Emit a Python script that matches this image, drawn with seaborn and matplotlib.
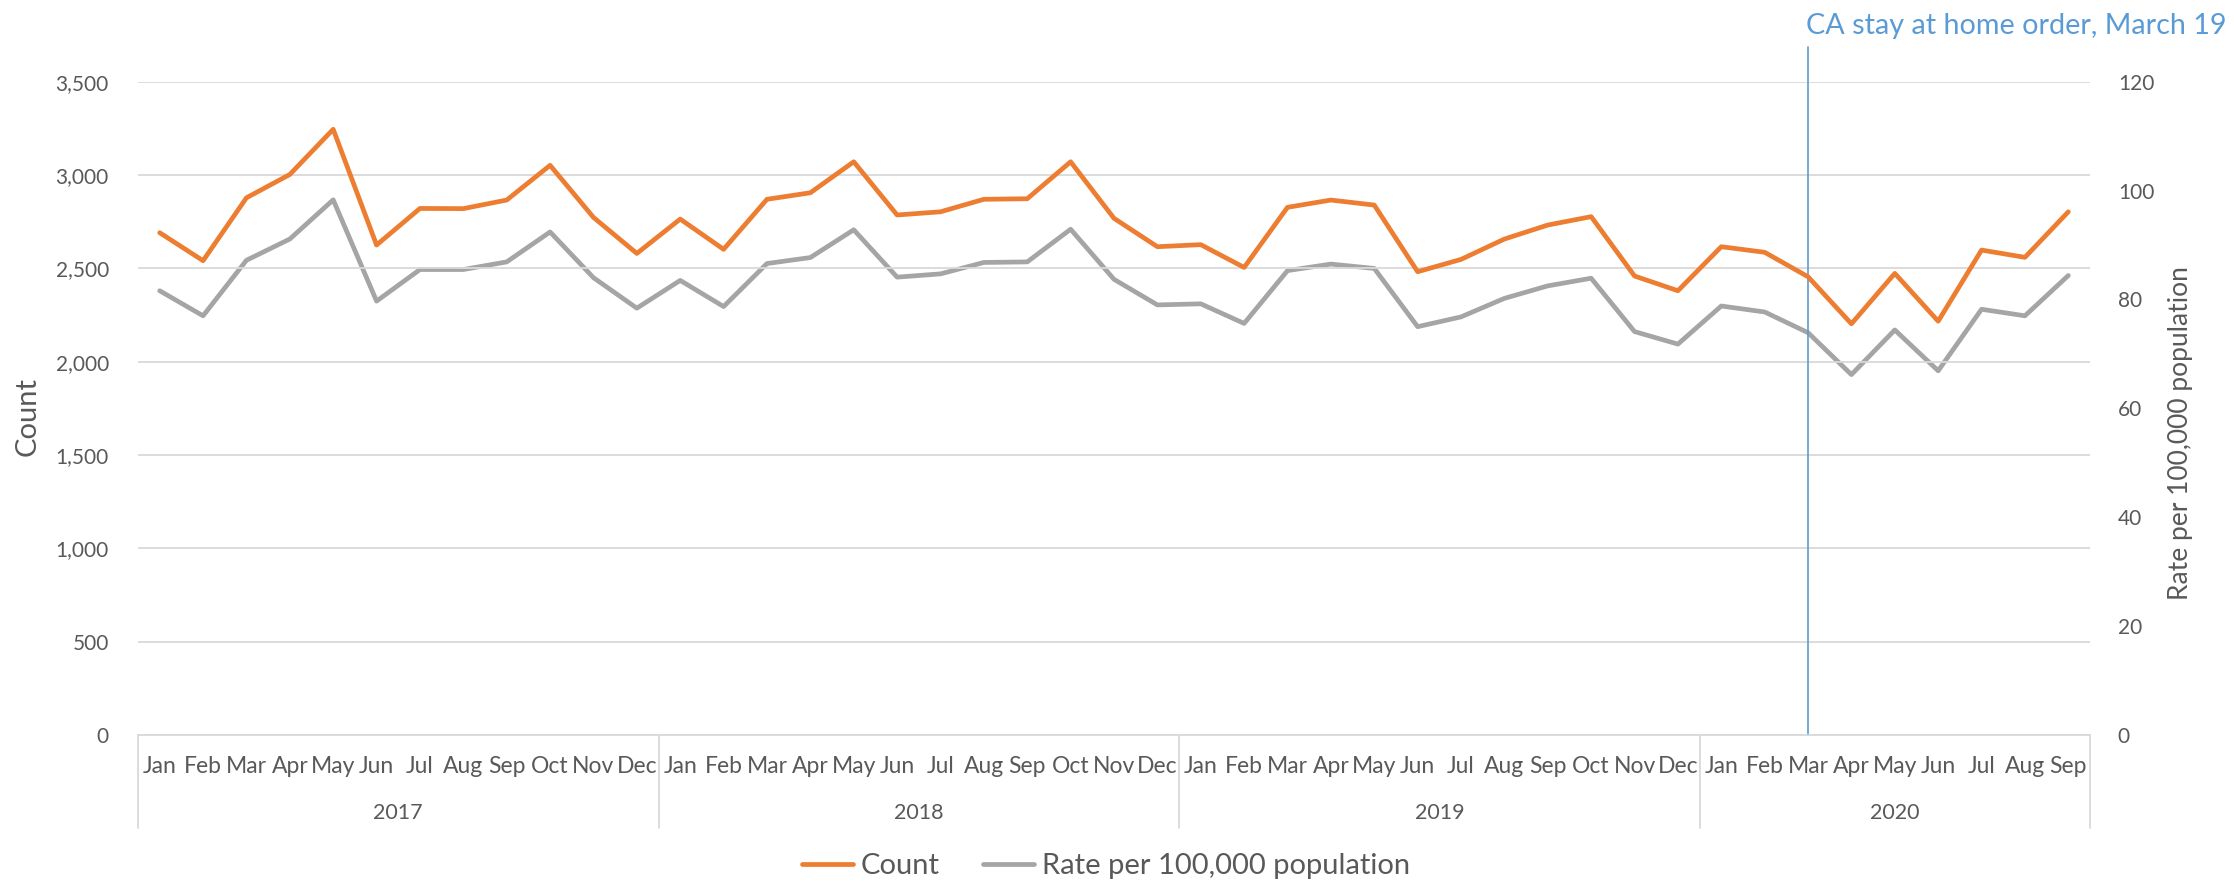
import numpy as np
import seaborn as sns
import matplotlib.pyplot as plt
import matplotlib.transforms as mtransforms
from matplotlib.lines import Line2D

# Monthly values, Jan 2017 - Sep 2020
years = ['2017', '2018', '2019', '2020']
months = ['Jan','Feb','Mar','Apr','May','Jun','Jul','Aug','Sep','Oct','Nov','Dec']

count = [2691, 2541, 2878, 3003, 3245, 2625, 2821, 2820, 2866, 3052, 2773, 2580,
         2764, 2602, 2870, 2905, 3071, 2786, 2803, 2870, 2873, 3071, 2768, 2616,
         2627, 2505, 2827, 2866, 2839, 2482, 2548, 2657, 2732, 2777, 2459, 2380,
         2616, 2586, 2455, 2203, 2473, 2217, 2598, 2559, 2803]

rate = [81.6, 77.0, 87.2, 91.1, 98.3, 79.7, 85.5, 85.5, 86.9, 92.4, 84.0, 78.4,
        83.5, 78.7, 86.6, 87.7, 92.8, 84.1, 84.7, 86.8, 86.9, 92.9, 83.7, 79.0,
        79.2, 75.6, 85.3, 86.5, 85.7, 75.0, 76.8, 80.2, 82.5, 83.9, 74.1, 71.8,
        78.8, 77.7, 73.9, 66.2, 74.4, 66.9, 78.2, 77.0, 84.4]

month_labels = (months * 4)[:len(count)]
year_sizes = [12, 12, 12, 9]
order_month = 38   # Mar 2020
order_text = "CA stay at home order, March 19"

orange = "#ED7D31"
gray = "#A5A5A5"
blue = "#5B9BD5"
txt = "#595959"
grid = "#D9D9D9"

sns.set_style("white")
plt.rcParams['font.family'] = ['Lato', 'DejaVu Sans']

x = np.arange(len(count))

fig = plt.figure(figsize=(22.34, 8.84), dpi=100)
ax = fig.add_axes([138/2234, 1 - 735/884, 1952/2234, 653.3/884])
ax2 = ax.twinx()

line_kw = dict(linewidth=3.4, solid_capstyle='round', solid_joinstyle='round')

sns.lineplot(x=x, y=count, ax=ax, color=orange, legend=False, zorder=3, **line_kw)
sns.lineplot(x=x, y=rate, ax=ax2, color=gray, legend=False, zorder=2, **line_kw)
# orange on top
ax.set_zorder(ax2.get_zorder() + 1)
ax.patch.set_visible(False)

ax.set_xlim(-0.5, len(count) - 0.5)
ax.set_ylim(0, 3500)
ax2.set_ylim(0, 120)

ax.set_yticks(np.arange(0, 3501, 500))
ax.set_yticklabels([f"{v:,}" for v in range(0, 3501, 500)])
ax2.set_yticks(np.arange(0, 121, 20))

ax.yaxis.grid(True, color=grid, linewidth=1.3)
ax.set_axisbelow(True)

ax.set_xticks(x)
ax.set_xticklabels(month_labels)
ax.tick_params(axis='x', length=0, pad=15, labelsize=16.5, colors=txt)
ax.tick_params(axis='y', length=0, pad=21, labelsize=15, colors=txt)
ax2.tick_params(axis='y', length=0, pad=20, labelsize=15, colors=txt)

for a in (ax, ax2):
    for s in ['top', 'left', 'right', 'bottom']:
        a.spines[s].set_visible(False)
ax.spines['bottom'].set_visible(True)
ax.spines['bottom'].set_color(grid)
ax.spines['bottom'].set_linewidth(1.3)

ax.set_ylabel("Count", fontsize=21, color=txt)
ax.yaxis.set_label_coords(-0.050, 0.488)
ax2.set_ylabel("Rate per 100,000 population", fontsize=19, color=txt)
ax2.yaxis.set_label_coords(1.040, 0.462)

# year groups under the month labels
trans = mtransforms.blended_transform_factory(ax.transData, ax.transAxes)
start = -0.5
bounds = [start]
for yr, n in zip(years, year_sizes):
    end = start + n
    ax.text((start + end) / 2, -0.119, yr, transform=trans, ha='center', va='center',
            fontsize=15.5, color=txt)
    bounds.append(end)
    start = end
for b in bounds:
    ax.plot([b, b], [0, -0.1424], transform=trans, color=grid, linewidth=1.3, clip_on=False)

# stay at home marker
ax.plot([order_month, order_month], [0, 1.0536], transform=trans, color=blue,
        linewidth=1.2, clip_on=False, zorder=1)
ax.text(order_month - 0.05, 1.085, order_text, transform=trans, ha='left', va='center',
        fontsize=20.7, color=blue)

handles = [Line2D([], [], color=orange, **line_kw), Line2D([], [], color=gray, **line_kw)]
fig.legend(handles, ["Count", "Rate per 100,000 population"], loc='center',
           bbox_to_anchor=(1106/2234, 1 - 866/884), ncol=2, frameon=False,
           fontsize=21, labelcolor=txt, handlelength=1.75, handletextpad=0.25,
           columnspacing=1.5)

fig.savefig("out.png", dpi=100)
